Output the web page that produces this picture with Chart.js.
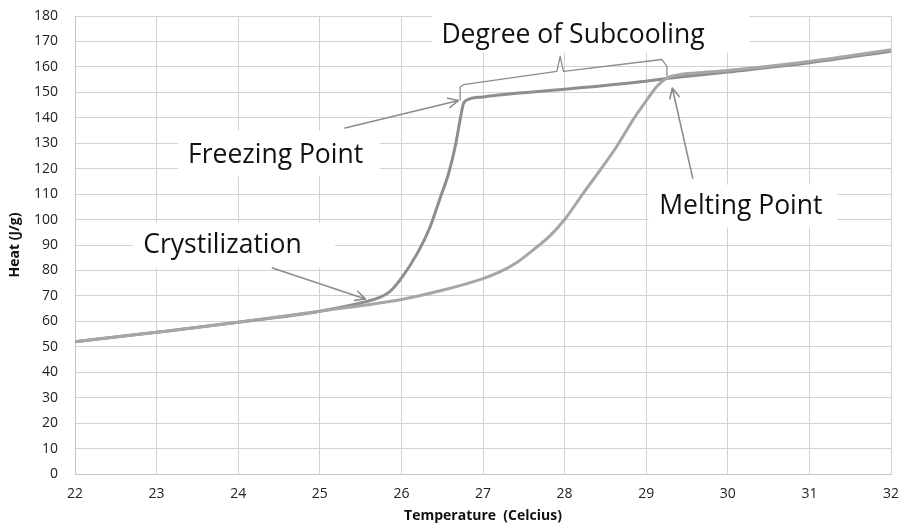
<!DOCTYPE html>
<html>
<head>
<meta charset="utf-8">
<script src="https://cdn.jsdelivr.net/npm/chart.js@4.4.1/dist/chart.umd.min.js"></script>
<style>
  html, body { margin: 0; padding: 0; background: #fff; }
</style>
</head>
<body>
<canvas id="chart" width="901" height="524"></canvas>
<script>
// Freezing run (cooling): follows the sensible curve, supercools, then jumps up
const freezeTemp = [22, 23, 24, 25, 25.5, 25.7, 25.85, 26.0, 26.2, 26.35, 26.47, 26.58, 26.66, 26.72, 26.76, 26.82, 27, 28, 29, 29.3, 30, 31, 32];
const freezeHeat = [52, 55.7, 59.6, 64, 67.2, 69, 71.5, 77, 87, 97, 108, 118.3, 128.8, 139.3, 145.5, 147.2, 148.2, 151.2, 154.4, 155.6, 158, 161.6, 166.2];

// Melting run (heating)
const meltTemp = [22, 23, 24, 25, 26, 26.5, 27, 27.2, 27.4, 27.62, 27.82, 28, 28.23, 28.44, 28.64, 28.84, 29.01, 29.13, 29.25, 29.4, 29.6, 30, 31, 32];
const meltHeat = [52, 55.7, 59.6, 64, 68.6, 72.2, 76.8, 79.3, 82.8, 88.2, 93.6, 100, 110.4, 119.6, 128.8, 139.3, 147.1, 152.3, 155.6, 156.9, 157.6, 158.6, 162.1, 166.7];

const xTicks = [22, 23, 24, 25, 26, 27, 28, 29, 30, 31, 32];
const yTicks = [0, 10, 20, 30, 40, 50, 60, 70, 80, 90, 100, 110, 120, 130, 140, 150, 160, 170, 180];

const toPoints = (xs, ys) => xs.map((x, i) => ({ x, y: ys[i] }));

// callouts, in data units: box [x0, yTop, x1, yBottom], text anchor [x, baseline]
const labels = [
  { text: 'Degree of Subcooling', box: [26.377, 186.4, 30.263, 165.6], at: [26.49, 169.5] },
  { text: 'Freezing Point', box: [23.263, 134.9, 25.739, 116.9], at: [23.385, 122.2] },
  { text: 'Crystilization', box: [22.711, 98.8, 25.187, 81.1], at: [22.837, 87.0] },
  { text: 'Melting Point', box: [29.025, 113.7, 31.342, 96.8], at: [29.159, 102.3] },
];
const arrows = [
  { from: [25.31, 136.0], to: [26.70, 146.8] },
  { from: [24.42, 81.0], to: [25.56, 68.8] },
  { from: [29.57, 116.3], to: [29.32, 151.7] },
];
const brace = [
  [26.72, 147.1], [26.72, 152.1], [26.76, 153.0], [27.905, 158.2], [27.946, 164.1],
  [27.986, 158.2], [29.193, 162.9], [29.254, 160.2], [29.254, 156.6],
];

const ink = '#8c8c8c';

const callouts = {
  id: 'callouts',
  beforeDatasetsDraw(chart) {
    const { ctx, scales: { x, y } } = chart;
    ctx.save();
    for (const l of labels) {
      const x0 = x.getPixelForValue(l.box[0]);
      const y0 = y.getPixelForValue(l.box[1]);
      const x1 = x.getPixelForValue(l.box[2]);
      const y1 = y.getPixelForValue(l.box[3]);
      ctx.fillStyle = '#fff';
      ctx.fillRect(x0, y0, x1 - x0, y1 - y0);
      ctx.fillStyle = '#111';
      ctx.font = '26.5px "Open Sans"';
      ctx.textBaseline = 'alphabetic';
      ctx.fillText(l.text, x.getPixelForValue(l.at[0]), y.getPixelForValue(l.at[1]));
    }
    ctx.restore();
  },
  afterDatasetsDraw(chart) {
    const { ctx, scales: { x, y } } = chart;
    const px = p => [x.getPixelForValue(p[0]), y.getPixelForValue(p[1])];
    ctx.save();
    ctx.strokeStyle = ink;
    ctx.lineWidth = 1.6;
    ctx.lineCap = 'round';
    ctx.lineJoin = 'round';
    for (const a of arrows) {
      const [sx, sy] = px(a.from);
      const [tx, ty] = px(a.to);
      const ang = Math.atan2(ty - sy, tx - sx);
      ctx.beginPath();
      ctx.moveTo(sx, sy);
      ctx.lineTo(tx, ty);
      for (const d of [-0.45, 0.45]) {
        ctx.moveTo(tx, ty);
        ctx.lineTo(tx - 11 * Math.cos(ang + d), ty - 11 * Math.sin(ang + d));
      }
      ctx.stroke();
    }
    ctx.lineWidth = 1.3;
    ctx.beginPath();
    brace.forEach((p, i) => {
      const [bx, by] = px(p);
      if (i === 0) ctx.moveTo(bx, by); else ctx.lineTo(bx, by);
    });
    ctx.stroke();
    ctx.restore();
  }
};

const lineStyle = color => ({
  borderColor: color,
  backgroundColor: color,
  borderWidth: 3,
  pointRadius: 0,
  showLine: true,
  fill: false,
  cubicInterpolationMode: 'monotone',
});

const tickFont = { family: 'Open Sans', size: 14 };
const titleFont = { family: 'Open Sans', size: 14, weight: 'bold' };

new Chart(document.getElementById('chart'), {
  type: 'scatter',
  data: {
    datasets: [
      { label: 'Melting', data: toPoints(meltTemp, meltHeat), ...lineStyle('#a6a6a6') },
      { label: 'Freezing', data: toPoints(freezeTemp, freezeHeat), ...lineStyle('#8e8e8e') },
    ],
  },
  options: {
    responsive: false,
    animation: false,
    devicePixelRatio: 1,
    layout: { padding: { top: 16, right: 10, left: 0, bottom: 0 } },
    plugins: { legend: { display: false }, tooltip: { enabled: false } },
    scales: {
      x: {
        type: 'linear',
        min: 22,
        max: 32,
        afterBuildTicks: s => { s.ticks = xTicks.map(v => ({ value: v })); },
        afterFit: s => { s.height = 50; s.paddingLeft = 0; s.paddingRight = 0; },
        grid: { color: '#d2d2d2', lineWidth: 1, drawTicks: false },
        border: { color: '#c4c4c4' },
        ticks: { color: '#222', font: tickFont, padding: 12, maxRotation: 0 },
        title: {
          display: true,
          text: 'Temperature  (Celcius)',
          color: '#111',
          font: titleFont,
          padding: { top: 0, bottom: 0 },
        },
      },
      y: {
        min: 0,
        max: 180,
        afterBuildTicks: s => { s.ticks = yTicks.map(v => ({ value: v })); },
        afterFit: s => { s.width = 75; s.paddingTop = 0; s.paddingBottom = 0; },
        grid: { color: '#d2d2d2', lineWidth: 1, drawTicks: false },
        border: { color: '#c4c4c4' },
        ticks: { color: '#222', font: tickFont, padding: 17 },
        title: {
          display: true,
          text: 'Heat (J/g)',
          color: '#111',
          font: titleFont,
          padding: { top: 7, bottom: 0 },
        },
      },
    },
  },
  plugins: [callouts],
});
</script>
</body>
</html>
